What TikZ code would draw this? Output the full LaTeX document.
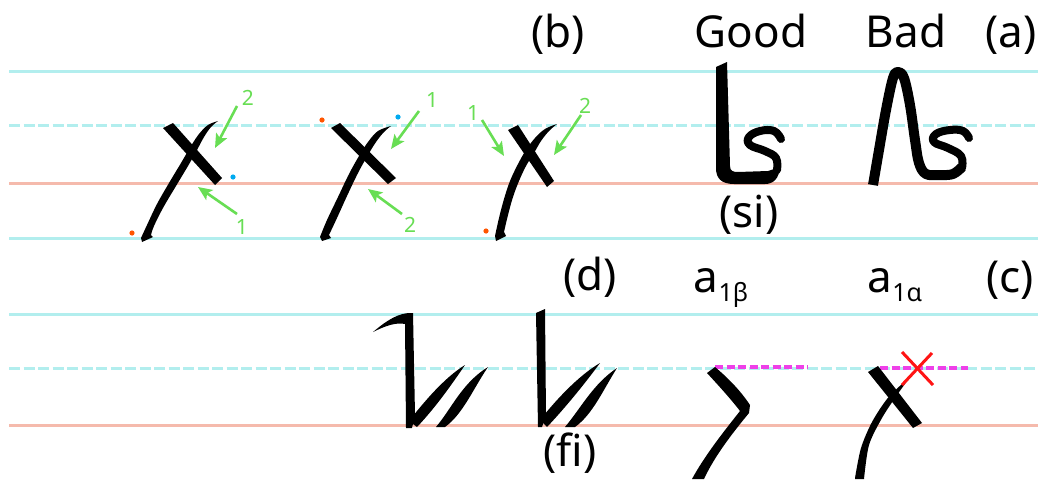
\documentclass[tikz,border=0pt]{standalone}
\usepackage{fontspec}
\setmainfont{Noto Sans}
\usetikzlibrary{arrows.meta}
\definecolor{guideCyan}{RGB}{178,238,238}
\definecolor{guidePink}{RGB}{245,186,172}
\definecolor{hintGreen}{RGB}{104,222,84}
\definecolor{dotOrange}{RGB}{255,85,0}
\definecolor{dotBlue}{RGB}{0,170,240}
\definecolor{levelPink}{RGB}{238,64,232}
\definecolor{crossRed}{RGB}{255,20,20}

\begin{document}
\begin{tikzpicture}[x=1pt, y=-1pt,
  guide/.style={line width=3pt, guideCyan},
  midguide/.style={guide, dash pattern=on 11pt off 3.5pt},
  baseguide/.style={line width=3pt, guidePink},
  pen/.style={draw=black, line join=round},
  hint/.style={hintGreen, line width=2.6pt, -{Stealth[length=14pt, width=12pt, inset=3pt]}},
  num/.style={text=hintGreen, font=\fontsize{21}{21}\selectfont},
  caption/.style={font=\fontsize{44}{44}\selectfont, anchor=base},
  level/.style={levelPink, line width=3.5pt, dash pattern=on 8pt off 3.5pt},
  cross/.style={crossRed, line width=3pt},
]
  \useasboundingbox[fill=white] (0,0) rectangle (1038,479);

  % ruled lines
  \foreach \yy in {71.5, 238, 314.5}
    \draw[guide] (9,\yy) -- (1038,\yy);
  \foreach \yy in {125.5, 368.5}
    \draw[midguide] (9,\yy) -- (1038,\yy);
  \foreach \yy in {183, 425.5}
    \draw[baseguide] (9,\yy) -- (1038,\yy);

  % captions
  \node[caption] (lblB) at (558,47) {(b)};
  \node[caption] (lblGood) at (751,47) {Good};
  \node[caption] (lblBad) at (906,47) {Bad};
  \node[caption] (lblA) at (1011,47) {(a)};
  \node[caption] (lblSi) at (749,227) {(si)};
  \node[caption] (lblD) at (590,290) {(d)};
  \node[caption] (lblBeta) at (721,292) {a\raisebox{-9pt}{\fontsize{25}{25}\selectfont 1β}};
  \node[caption] (lblAlpha) at (895,292) {a\raisebox{-9pt}{\fontsize{25}{25}\selectfont 1α}};
  \node[caption] (lblC) at (1010,292) {(c)};
  \node[caption] (lblFi) at (570,466) {(fi)};

  % first x
  \fill (163,128) -- (173,123) -- (222,178) -- (215,185) -- cycle;
  \fill plot[smooth, tension=0.6] coordinates {(218,121) (211,127) (204,137) (197,150) (188,166) (176,186) (163,208) (154,226) (151,235)}
    -- (153,237) -- (142,242)
    -- plot[smooth, tension=0.6] coordinates {(141,238) (147,225) (157,204) (169,183) (181,163) (191,146) (199,134) (208,125) (218,121)} -- cycle;
  \fill[dotOrange] (132,233) circle (2.6);
  \fill[dotBlue] (233,177) circle (2.6);
  \coordinate (aTail2) at (237,106);
  \coordinate (aHead2) at (215,148);
  \coordinate (aTail1) at (237,214);
  \coordinate (aHead1) at (198,187);
  \draw[hint] (aTail2) -- (aHead2);
  \draw[hint] (aTail1) -- (aHead1);
  \node[num] (aNum2) at (248,98) {2};
  \node[num] (aNum1) at (242,227) {1};

  % second x
  \fill (331,128) -- (340,123) -- (396,178) -- (388,184) -- cycle;
  \fill plot[smooth, tension=0.6] coordinates {(391,126) (384,132) (376,142) (368,155) (358,173) (347,196) (337,218) (329,235)}
    -- (331,238) -- (322,241)
    -- plot[smooth, tension=0.6] coordinates {(320,237) (327,220) (338,197) (349,174) (359,156) (368,142) (378,131) (391,126)} -- cycle;
  \fill[dotOrange] (322,120) circle (2.6);
  \fill[dotBlue] (398,117) circle (2.6);
  \coordinate (bTail1) at (419,111);
  \coordinate (bHead1) at (391,149);
  \coordinate (bTail2) at (402,214);
  \coordinate (bHead2) at (368,189);
  \draw[hint] (bTail1) -- (bHead1);
  \draw[hint] (bTail2) -- (bHead2);
  \node[num] (bNum1) at (432,100) {1};
  \node[num] (bNum2) at (410,225) {2};

  % third x
  \fill (508,130) -- (518,125) -- (554,181) -- (547,187) -- cycle;
  \fill plot[smooth, tension=0.6] coordinates {(557,124) (549,131) (541,141) (534,153) (526,166) (519,181) (513,197) (508,215) (504,232)}
    -- (506,236) -- (496,241)
    -- plot[smooth, tension=0.6] coordinates {(495,236) (499,218) (504,199) (510,181) (518,164) (526,150) (535,138) (545,129) (557,124)} -- cycle;
  \fill[dotOrange] (486,231) circle (2.6);
  \coordinate (cTail1) at (482,120);
  \coordinate (cHead1) at (504,156);
  \coordinate (cTail2) at (581,115);
  \coordinate (cHead2) at (554,155);
  \draw[hint] (cTail1) -- (cHead1);
  \draw[hint] (cTail2) -- (cHead2);
  \node[num] (cNum1) at (473,113) {1};
  \node[num] (cNum2) at (585,106) {2};

  % good / bad
  \fill (716,67) -- (727,62) -- (730,166) .. controls (730,171) and (733,172) .. (738,172) -- (768,171) -- (780,167)
    .. controls (779,179) and (773,184) .. (765,184) -- (734,184) .. controls (721,184) and (716,178) .. (716,168) -- cycle;
  \draw[pen, line width=8pt, line cap=round] plot[smooth, tension=0.7] coordinates {(777,170) (776,158) (765,151) (750,145) (749,137) (760,131) (774,131) (781,139)};
  \draw[pen, line width=10pt] plot[smooth, tension=0.6] coordinates {(873,185) (879,150) (886,110) (893,78) (898,72) (904,78) (910,105) (915,140) (919,163) (926,174) (940,175) (953,174) (962,167)};
  \draw[pen, line width=8pt, line cap=round] plot[smooth, tension=0.7] coordinates {(962,168) (961,156) (948,148) (934,142) (936,134) (950,130) (963,131) (969,138)};

  % bottom left
  \fill (373,332) .. controls (386,321) and (399,312) .. (413,313) -- (415,415) -- (412,428) -- (406,428) -- (405,324)
    .. controls (396,322) and (385,326) .. (373,332) -- cycle;
  \fill (409,421) .. controls (424,402) and (444,378) .. (465,365) .. controls (452,384) and (436,407) .. (417,427) -- cycle;
  \fill (436,427) .. controls (452,408) and (462,383) .. (488,367) .. controls (473,389) and (463,414) .. (445,427) -- cycle;

  % fi
  \fill (536,313) -- (545,309) -- (546,416) -- (542,427) -- (538,427) -- cycle;
  \fill (540,420) .. controls (556,400) and (578,376) .. (600,363) .. controls (586,382) and (566,407) .. (547,427) -- cycle;
  \fill (565,427) .. controls (581,408) and (593,384) .. (617,368) .. controls (603,390) and (593,414) .. (575,427) -- cycle;

  % a1 beta
  \draw[level] (715,367) -- (808,367);
  \fill (707,373) -- (715,367) .. controls (728,378) and (740,390) .. (750,405) -- (749,413)
    .. controls (735,430) and (715,455) .. (704,479) -- (692,479) .. controls (705,455) and (725,430) .. (740,411)
    .. controls (730,398) and (718,385) .. (707,373) -- cycle;

  % a1 alpha
  \draw[level] (880,368) -- (968,368);
  \fill (868,372) -- (878,366) -- (922,423) -- (913,428) -- cycle;
  \fill plot[smooth] coordinates {(913,373) (897,395) (882,418) (869,445) (864,479)} -- (855,479)
    -- plot[smooth] coordinates {(855,478) (861,448) (872,422) (887,399) (903,383)} -- cycle;
  \draw[cross] (902,352) -- (933,385);
  \draw[cross] (932,353) -- (902,385);
\end{tikzpicture}
\end{document}
